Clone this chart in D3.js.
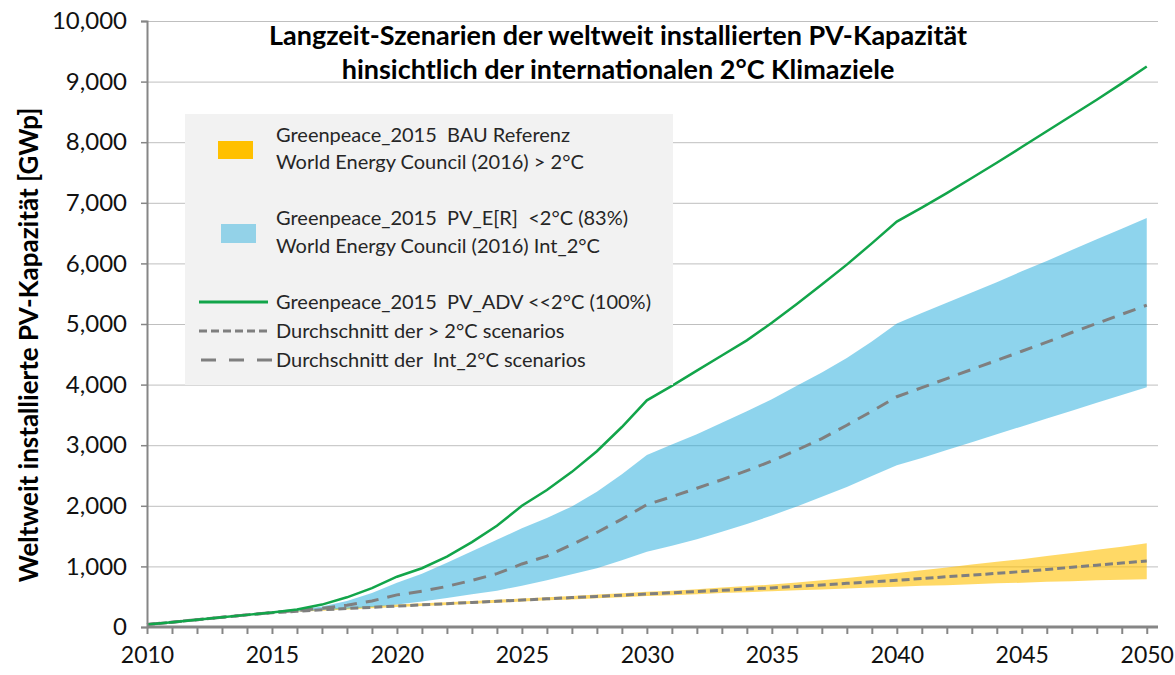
<!DOCTYPE html>
<html>
<head>
<meta charset="utf-8">
<script src="https://cdn.jsdelivr.net/npm/d3@7"></script>
<style>
  body { margin: 0; background: #fff; }
  svg { font-family: Lato, "Open Sans", sans-serif; }
</style>
</head>
<body>
<div id="vis"></div>
<script>
(function () {
  'use strict';

  var WIDTH = 1175;
  var HEIGHT = 675;

  // years 2010 .. 2050, one value per year (GWp)
  var YEARS = d3.range(2010, 2051);
  var Y_TICKS = [0, 1000, 2000, 3000, 4000, 5000, 6000, 7000, 8000, 9000, 10000];
  var X_LABELS = [2010, 2015, 2020, 2025, 2030, 2035, 2040, 2045, 2050];

  var pvAdv = [40, 80, 120, 160, 200, 240, 290, 370, 490, 640,
    830, 970, 1160, 1400, 1670, 2000, 2260, 2560, 2900, 3300,
    3740, 3980, 4230, 4480, 4730, 5020, 5330, 5650, 5980, 6330,
    6690, 6920, 7160, 7410, 7660, 7920, 8180, 8440, 8700, 8970, 9250];

  var int2Upper = [40, 80, 120, 160, 200, 240, 280, 340, 430, 560,
    730, 880, 1060, 1250, 1440, 1630, 1800, 1990, 2230, 2520,
    2840, 3010, 3180, 3370, 3560, 3760, 3980, 4200, 4440, 4710,
    5010, 5180, 5350, 5520, 5690, 5870, 6040, 6220, 6400, 6570, 6750];

  var int2Lower = [40, 80, 120, 160, 200, 230, 255, 280, 300, 330,
    370, 420, 480, 540, 600, 680, 770, 870, 970, 1100,
    1240, 1340, 1450, 1570, 1700, 1840, 1990, 2150, 2310, 2490,
    2670, 2790, 2920, 3050, 3180, 3310, 3440, 3570, 3700, 3830, 3955];

  var int2Avg = [40, 80, 120, 160, 200, 240, 270, 310, 360, 430,
    530, 590, 670, 770, 880, 1040, 1170, 1360, 1560, 1780,
    2020, 2150, 2290, 2430, 2580, 2740, 2920, 3110, 3330, 3560,
    3800, 3950, 4100, 4250, 4400, 4550, 4700, 4860, 5010, 5160, 5310];

  var bauUpper = [40, 80, 120, 160, 200, 240, 270, 300, 320, 345,
    370, 390, 410, 430, 450, 470, 490, 510, 535, 555,
    580, 600, 625, 650, 675, 700, 735, 770, 810, 850,
    890, 935, 980, 1030, 1075, 1120, 1170, 1220, 1275, 1325, 1380];

  var bauLower = [40, 80, 120, 160, 200, 230, 250, 270, 290, 310,
    330, 345, 365, 385, 400, 420, 440, 455, 475, 490,
    510, 525, 540, 560, 575, 590, 605, 620, 635, 650,
    665, 680, 690, 705, 720, 730, 745, 755, 770, 780, 790];

  var bauAvg = [40, 80, 120, 160, 200, 235, 260, 285, 305, 325,
    345, 365, 385, 405, 425, 445, 465, 485, 505, 525,
    545, 565, 585, 605, 625, 645, 670, 695, 720, 745,
    770, 800, 830, 855, 885, 915, 950, 985, 1020, 1055, 1090];

  var LEGEND_BAU = ['Greenpeace_2015  BAU Referenz', 'World Energy Council (2016) > 2°C'];
  var LEGEND_INT = ['Greenpeace_2015  PV_E[R]  <2°C (83%)', 'World Energy Council (2016) Int_2°C'];
  var LEGEND_ADV = 'Greenpeace_2015  PV_ADV <<2°C (100%)';
  var LEGEND_AVG1 = 'Durchschnitt der > 2°C scenarios';
  var LEGEND_AVG2 = 'Durchschnitt der  Int_2°C scenarios';

  var TITLE = ['Langzeit-Szenarien der weltweit installierten PV-Kapazität',
    'hinsichtlich der internationalen 2°C Klimaziele'];
  var Y_TITLE = 'Weltweit installierte PV-Kapazität [GWp]';

  var BLUE = 'rgb(30,170,220)';
  var ORANGE = '#ffc000';
  var GREEN = '#12a54a';
  var GREY = '#7f7f7f';
  var AXIS = '#868686';

  var svg = d3.select('#vis').append('svg')
    .attr('width', WIDTH)
    .attr('height', HEIGHT);

  var x = d3.scaleLinear().domain([2010, 2050.45]).range([147, 1158]);
  var y = d3.scaleLinear().domain([0, 10000]).range([627, 21]);

  // gridlines
  svg.append('g')
    .attr('transform', 'translate(' + x(2010) + ',0)')
    .call(d3.axisLeft(y).tickValues(Y_TICKS).tickSize(-(x.range()[1] - x.range()[0])).tickFormat(''))
    .call(function (g) {
      g.select('.domain').remove();
      g.selectAll('line').attr('stroke', '#bfbfbf').attr('stroke-width', 1);
    });

  var idx = YEARS.map(function (d, i) { return i; });

  var area = function (lo, hi) {
    return d3.area()
      .x(function (i) { return x(YEARS[i]); })
      .y0(function (i) { return y(lo[i]); })
      .y1(function (i) { return y(hi[i]); });
  };
  var line = function (vals) {
    return d3.line()
      .x(function (i) { return x(YEARS[i]); })
      .y(function (i) { return y(vals[i]); });
  };

  svg.append('path').datum(idx)
    .attr('d', area(bauLower, bauUpper))
    .attr('fill', ORANGE).attr('fill-opacity', 0.6);
  svg.append('path').datum(idx)
    .attr('d', area(int2Lower, int2Upper))
    .attr('fill', BLUE).attr('fill-opacity', 0.5);

  svg.append('path').datum(idx)
    .attr('d', line(bauAvg))
    .attr('fill', 'none').attr('stroke', GREY)
    .attr('stroke-width', 3).attr('stroke-dasharray', '8,4');
  svg.append('path').datum(idx)
    .attr('d', line(int2Avg))
    .attr('fill', 'none').attr('stroke', GREY)
    .attr('stroke-width', 3).attr('stroke-dasharray', '13,9');
  svg.append('path').datum(idx)
    .attr('d', line(pvAdv))
    .attr('fill', 'none').attr('stroke', GREEN)
    .attr('stroke-width', 2.5);

  // y axis
  svg.append('g')
    .attr('transform', 'translate(' + x(2010) + ',0)')
    .call(d3.axisLeft(y).tickValues(Y_TICKS).tickSize(6).tickPadding(14)
      .tickFormat(d3.format(',')))
    .call(function (g) {
      g.select('.domain').attr('stroke', AXIS).attr('stroke-width', 2);
      g.selectAll('line').attr('stroke', AXIS).attr('stroke-width', 1.5);
      g.selectAll('text').attr('fill', '#111').style('font-size', '24px')
        .style('font-family', 'Lato, sans-serif');
    });

  // x axis
  svg.append('g')
    .attr('transform', 'translate(0,' + y(0) + ')')
    .call(d3.axisBottom(x).tickValues(YEARS).tickSize(7).tickPadding(13)
      .tickFormat(function (d) { return X_LABELS.indexOf(d) >= 0 ? d : ''; }))
    .call(function (g) {
      g.select('.domain').attr('d', 'M' + x(2010) + ',0H' + x.range()[1])
        .attr('stroke', AXIS).attr('stroke-width', 3);
      g.selectAll('line').attr('stroke', AXIS).attr('stroke-width', 2);
      g.selectAll('text').attr('fill', '#111').style('font-size', '23px')
        .style('font-family', 'Lato, sans-serif');
    });

  // y title
  svg.append('text')
    .attr('transform', 'translate(38,345) rotate(-90)')
    .attr('text-anchor', 'middle')
    .style('font-size', '26px').style('font-weight', 'bold')
    .text(Y_TITLE);

  // chart title
  svg.selectAll('.title').data(TITLE).enter().append('text')
    .attr('class', 'title')
    .attr('x', 618)
    .attr('y', function (d, i) { return 45 + i * 34; })
    .attr('text-anchor', 'middle')
    .style('font-size', '27px').style('font-weight', 'bold')
    .text(function (d) { return d; });

  // legend
  var lg = svg.append('g');
  lg.append('rect')
    .attr('x', 185).attr('y', 114).attr('width', 488).attr('height', 271)
    .attr('fill', '#f2f2f2');

  var txt = function (s, ty) {
    lg.append('text').attr('x', 276).attr('y', ty).attr('dy', '0.35em')
      .style('font-size', '20px').style('white-space', 'pre')
      .attr('fill', '#262626').text(s);
  };

  lg.append('rect').attr('x', 218).attr('y', 141).attr('width', 35).attr('height', 18)
    .attr('fill', ORANGE);
  txt(LEGEND_BAU[0], 135);
  txt(LEGEND_BAU[1], 162);

  lg.append('rect').attr('x', 221).attr('y', 224).attr('width', 35).attr('height', 19)
    .attr('fill', BLUE).attr('fill-opacity', 0.45);
  txt(LEGEND_INT[0], 218);
  txt(LEGEND_INT[1], 246);

  lg.append('line').attr('x1', 199).attr('x2', 268).attr('y1', 302).attr('y2', 302)
    .attr('stroke', GREEN).attr('stroke-width', 3);
  txt(LEGEND_ADV, 302);

  lg.append('line').attr('x1', 199).attr('x2', 268).attr('y1', 331).attr('y2', 331)
    .attr('stroke', GREY).attr('stroke-width', 3).attr('stroke-dasharray', '8,4');
  txt(LEGEND_AVG1, 331);

  lg.append('line').attr('x1', 201).attr('x2', 272).attr('y1', 360).attr('y2', 360)
    .attr('stroke', GREY).attr('stroke-width', 3).attr('stroke-dasharray', '15,13');
  txt(LEGEND_AVG2, 360);
})();
</script>
</body>
</html>
